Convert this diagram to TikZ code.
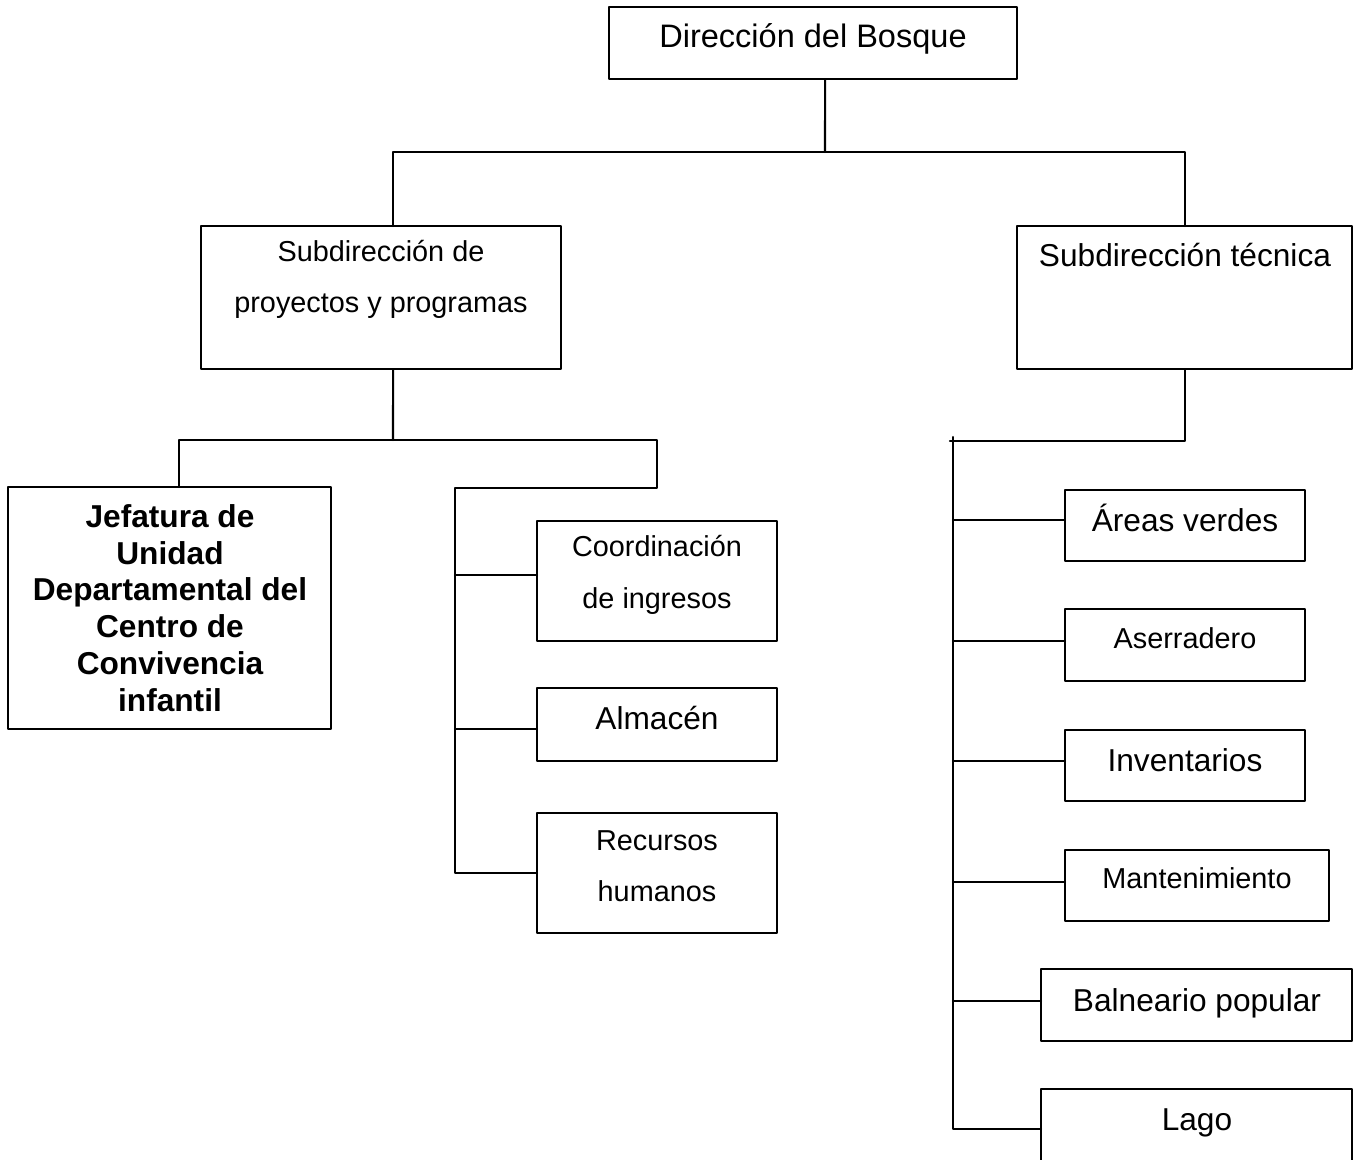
\documentclass[tikz,border=0pt]{standalone}
\usepackage{fontspec}
\setmainfont{Liberation Sans}
\usetikzlibrary{calc}
\tikzset{
 caja/.style={draw,inner sep=0pt,outer sep=0pt,anchor=north west},
 rotulo/.style={align=center,inner sep=0pt,font=\fontsize{9}{11}\selectfont},
 chico/.style={align=center,inner sep=0pt,font=\fontsize{8.2}{14.5}\selectfont}
}
\begin{document}
\begin{tikzpicture}[x=0.01cm,y=-0.01cm,line join=round,line cap=round,line width=0.6pt]
\useasboundingbox (0,0) rectangle (1353,1159);
% cajas
\node[caja,minimum width=4.08cm,minimum height=0.72cm] (dir) at (609,7) {};
\node[caja,minimum width=3.60cm,minimum height=1.43cm] (spp) at (201,226) {};
\node[caja,minimum width=3.35cm,minimum height=1.43cm] (stec) at (1017,226) {};
\node[caja,minimum width=3.23cm,minimum height=2.42cm] (jef) at (8,487) {};
\node[caja,minimum width=2.40cm,minimum height=1.20cm] (coi) at (537,521) {};
\node[caja,minimum width=2.40cm,minimum height=0.73cm] (alm) at (537,688) {};
\node[caja,minimum width=2.40cm,minimum height=1.20cm] (rh) at (537,813) {};
\node[caja,minimum width=2.40cm,minimum height=0.71cm] (av) at (1065,490) {};
\node[caja,minimum width=2.40cm,minimum height=0.72cm] (ase) at (1065,609) {};
\node[caja,minimum width=2.40cm,minimum height=0.71cm] (inv) at (1065,730) {};
\node[caja,minimum width=2.64cm,minimum height=0.71cm] (man) at (1065,850) {};
\node[caja,minimum width=3.11cm,minimum height=0.72cm] (bal) at (1041,969) {};
\node[caja,minimum width=3.11cm,minimum height=0.80cm] (lag) at (1041,1089) {};
% textos
\node[rotulo,font=\fontsize{9.25}{11}\selectfont] (tdir) at (813,39) {Dirección del Bosque};
\node[chico] (tspp) at (381,279) {Subdirección de\\proyectos y programas};
\node[rotulo] (tstec) at (1185,255) {Subdirección técnica};
\node[rotulo,font=\fontsize{9}{10.45}\selectfont\bfseries] (tjef) at (170,608) {Jefatura de\\Unidad\\Departamental del\\Centro de\\Convivencia\\infantil};
\node[chico,font=\fontsize{8.2}{14.8}\selectfont] (tcoi) at (657,575) {Coordinación\\de ingresos};
\node[rotulo] (talm) at (657,718) {Almacén};
\node[chico] (trh) at (657,866) {Recursos\\humanos};
\node[rotulo] (tav) at (1185,518) {Áreas verdes};
\node[chico] (tase) at (1185,638) {Aserradero};
\node[rotulo] (tinv) at (1185,760) {Inventarios};
\node[chico] (tman) at (1197,878) {Mantenimiento};
\node[rotulo] (tbal) at (1197,1003) {Balneario popular};
\node[rotulo] (tlag) at (1197,1123) {Lago};
% lineas
\coordinate (b1) at (825,152);
\coordinate (b2) at (393,440);
\coordinate (b3) at (657,488);
\coordinate (r1) at (455,488);
\coordinate (t1) at (950,441);
\coordinate (t0) at (953,437);
\draw ([xshift=0.12cm]dir.south) -- (b1);
\draw ([xshift=0.12cm]spp.north) |- (b1) -| (stec.north);
\draw ([xshift=0.12cm]spp.south) -- (b2);
\draw ([xshift=0.095cm]jef.north) |- (b2) -| (b3) -- (r1) -- (r1 |- rh.west) -- (rh.west);
\foreach \i/\y in {coi/575,alm/729}{\draw (r1 |- 0,\y) -- (\i.west |- 0,\y);}
\draw (stec.south) |- (t1);
\draw (t0) -- (t0 |- 0,1129) -- (lag.west |- 0,1129);
\foreach \i/\y in {av/520,ase/641,inv/761,man/882,bal/1001}{\draw (t0 |- 0,\y) -- (\i.west |- 0,\y);}
\end{tikzpicture}
\end{document}
